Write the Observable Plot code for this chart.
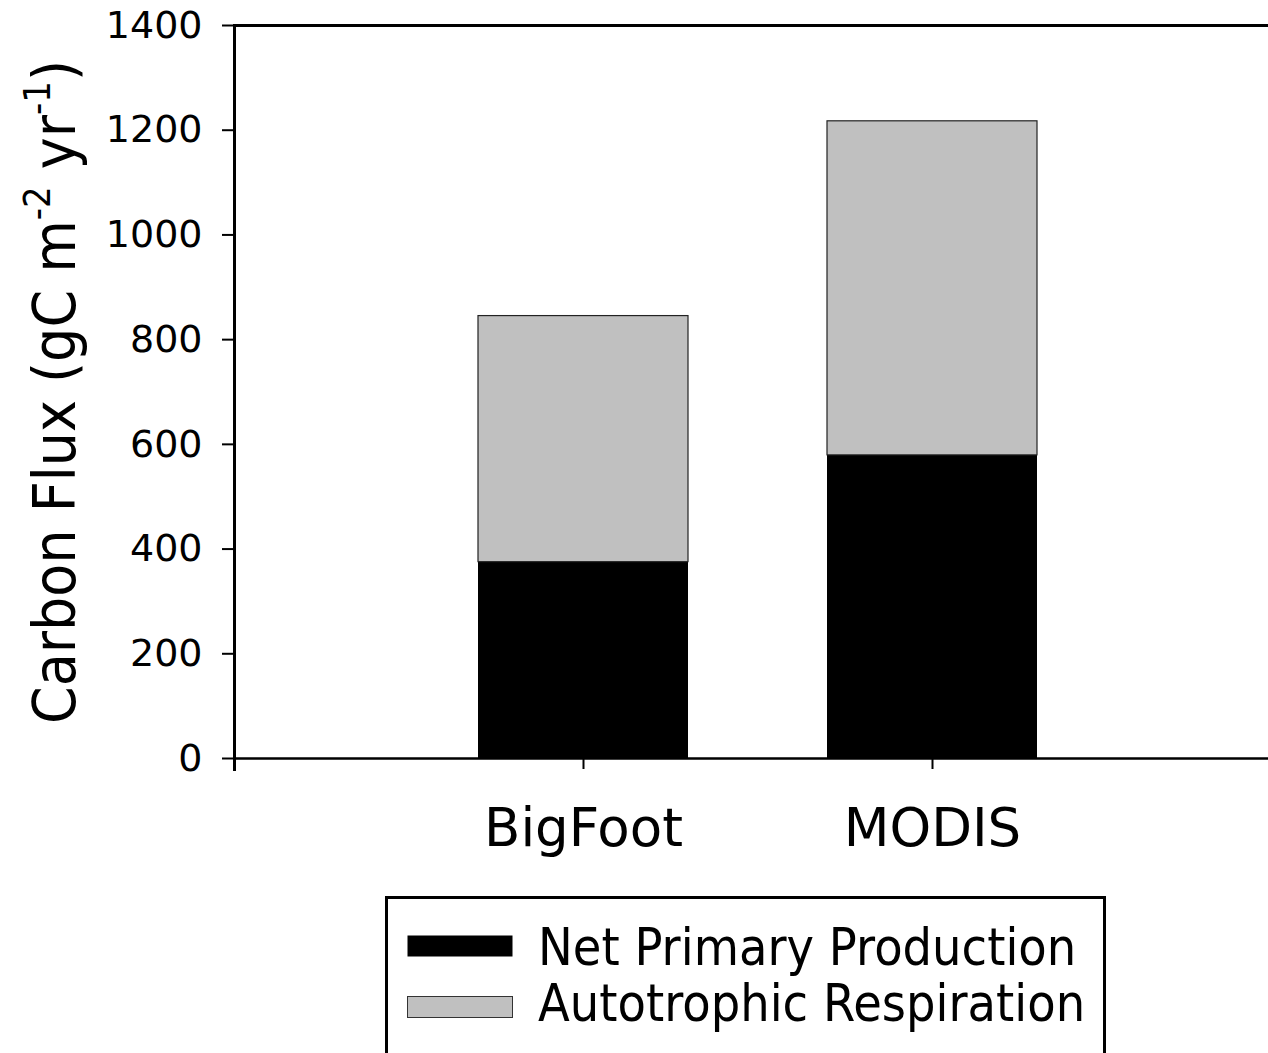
<!DOCTYPE html>
<html>
<head>
<meta charset="utf-8">
<script src="https://cdn.jsdelivr.net/npm/d3@7"></script>
<script src="https://cdn.jsdelivr.net/npm/@observablehq/plot@0.6"></script>
<style>
  html, body { margin: 0; padding: 0; background: #fff; overflow: hidden; }
  #wrap { position: relative; width: 1268px; height: 1053px; }
  #chart { position: absolute; left: 0; top: 0; }
  #legend { position: absolute; left: 385px; top: 896px; }
  text { font-family: "DejaVu Sans", Verdana, sans-serif; }
</style>
</head>
<body>
<div id="wrap"><div id="chart"></div><svg id="legend" width="721" height="157"></svg></div>
<script>
// ---- data ----
const categories = ["BigFoot", "MODIS"];
const netPrimaryProduction = [375, 579];
const autotrophicRespiration = [470, 638];
const seriesNames = ["Net Primary Production", "Autotrophic Respiration"];
const seriesColors = ["#000000", "#c0c0c0"];
const yTicks = [0, 200, 400, 600, 800, 1000, 1200, 1400];
const yLabelParts = ["Carbon Flux (gC m", "-2", " yr", "-1", ")"];

// stacked rows built from the arrays
const nppRows = categories.map((c, i) => ({cat: c, y1: 0, y2: netPrimaryProduction[i]}));
const arRows = categories.map((c, i) => ({cat: c, y1: netPrimaryProduction[i], y2: netPrimaryProduction[i] + autotrophicRespiration[i]}));

const chart = Plot.plot({
  width: 1268,
  height: 880,
  marginLeft: 234,
  marginRight: 0,
  marginTop: 25,
  marginBottom: 122,
  style: {fontFamily: "DejaVu Sans, Verdana, sans-serif", background: "white", color: "black"},
  x: {domain: categories, range: [234, 1281], paddingInner: 0.398, paddingOuter: 0.699, align: 0.5, label: null},
  y: {domain: [0, 1400], label: null},
  marks: [
    Plot.barY(nppRows, {x: "cat", y1: "y1", y2: "y2", fill: seriesColors[0]}),
    Plot.barY(arRows, {x: "cat", y1: "y1", y2: "y2", fill: seriesColors[1], stroke: "#222", strokeWidth: 1.2}),
    Plot.axisY({ticks: yTicks, tickSize: 12, tickPadding: 20, fontSize: 38, strokeWidth: 2, label: null, tickFormat: d => String(d)}),
    Plot.axisX({tickSize: 11, tickPadding: 39, fontSize: 53, strokeWidth: 2, label: null}),
    Plot.frame({anchor: "left", strokeWidth: 3, insetBottom: -11}),
    Plot.frame({anchor: "bottom", strokeWidth: 2.5}),
    Plot.frame({anchor: "top", strokeWidth: 3})
  ]
});
document.getElementById("chart").appendChild(chart);

// y-axis title with superscripts
const svg = d3.select(chart);
const label = svg.append("text")
  .attr("transform", "translate(75,392) rotate(-90) scale(1,1.08)")
  .attr("text-anchor", "middle")
  .attr("font-size", 54)
  .attr("fill", "black");
yLabelParts.forEach((p, i) => {
  const sup = i % 2 === 1;
  const ts = label.append("tspan").text(p);
  if (sup) ts.attr("font-size", 34).attr("dy", -23);
  else if (i > 0) ts.attr("dy", 23);
});

// legend
const lg = d3.select("#legend");
lg.append("rect").attr("x", 1.5).attr("y", 1.5).attr("width", 718).attr("height", 200)
  .attr("fill", "white").attr("stroke", "black").attr("stroke-width", 3);
seriesNames.forEach((name, i) => {
  const top = i === 0 ? 39 : 100;
  lg.append("rect").attr("x", 22.5).attr("y", top + 0.5).attr("width", 105).attr("height", 21)
    .attr("fill", seriesColors[i]).attr("stroke", i === 0 ? "none" : "#333").attr("stroke-width", 1);
  lg.append("text")
    .attr("transform", `translate(153,${i === 0 ? 69 : 125}) scale(1,1.1)`)
    .attr("font-size", 46.5).attr("fill", "black").text(name);
});
</script>
</body>
</html>
